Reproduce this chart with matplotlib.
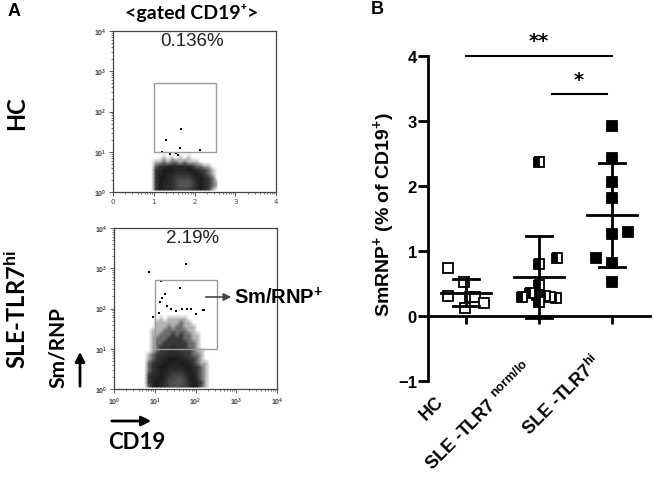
import numpy as np
import matplotlib.pyplot as plt
from matplotlib.colors import LinearSegmentedColormap
from matplotlib.patches import Rectangle, FancyArrowPatch

plt.rcParams['mathtext.fontset'] = 'custom'
plt.rcParams['mathtext.rm'] = 'Liberation Sans:bold'
plt.rcParams['mathtext.it'] = 'Liberation Sans:bold'
plt.rcParams['mathtext.bf'] = 'Liberation Sans:bold'

# ---- panel A: flow cytometry density (rows top -> bottom, 0.1 decade cells) ----
hc_x0 = 0.9
hc_grid = [
    "0 0 0 0 0 0 0 0 0 0 0 0 0 0 0 0 0",
    "0 0 0 1 0 1 0 1 0 1 0 0 0 0 0 0 0",
    "0 1 1 2 1 2 2 1 2 1 1 1 0 0 0 0 0",
    "0 2 3 3 4 4 4 4 4 4 3 2 2 1 1 0 0",
    "0 3 4 5 5 5 6 6 6 5 5 4 3 3 2 1 0",
    "0 3 4 5 6 6 7 7 7 7 6 5 4 3 2 1 0",
    "0 3 5 5 6 7 8 8 8 8 7 6 5 4 3 2 0",
    "0 3 5 6 6 7 8 9 9 9 8 6 5 4 3 2 1",
    "0 3 5 6 7 7 8 9 9 9 8 7 5 4 3 2 1",
    "0 3 5 6 6 7 8 8 8 8 7 6 5 4 3 1 0",
]
hc_out_x = [1.30, 1.67, 1.20, 1.65, 2.13, 1.55, 1.60, 1.40]
hc_out_y = [1.29, 1.57, 1.00, 1.10, 1.05, 0.97, 0.93, 0.95]

sle_x0 = 0.7
sle_grid = [
    "0 0 0 0 0 0 0 0 0 0 0 0 0 0 0 0 0",
    "0 0 0 0 1 0 1 1 1 1 1 0 0 0 0 0 0",
    "0 0 0 1 1 1 1 1 1 2 1 1 0 0 0 0 0",
    "0 0 0 1 1 1 2 1 2 2 1 1 1 0 0 0 0",
    "0 0 1 1 1 2 2 2 2 2 2 1 1 0 0 0 0",
    "0 0 1 1 2 2 2 3 2 3 2 2 1 1 0 0 0",
    "0 0 1 2 2 2 3 3 3 3 2 2 1 1 0 0 0",
    "0 0 1 2 2 3 3 3 3 3 3 2 2 1 0 0 0",
    "0 0 1 2 3 3 3 4 3 3 3 2 2 1 0 0 0",
    "0 0 1 2 3 3 4 4 4 3 3 3 2 1 1 0 0",
    "0 1 2 3 3 4 4 4 4 4 3 3 2 2 1 0 0",
    "0 1 2 3 4 4 5 5 5 4 4 3 3 2 1 0 0",
    "0 2 3 4 4 5 5 6 6 5 5 4 3 2 1 1 0",
    "0 2 3 4 5 5 6 6 6 6 5 5 4 3 2 1 0",
    "0 2 3 4 5 6 7 7 7 7 6 5 4 3 2 1 0",
    "0 3 4 4 5 6 7 8 8 8 7 6 5 3 2 1 0",
    "0 3 4 5 5 6 8 8 9 9 8 6 5 4 2 1 0",
    "0 3 4 5 6 7 8 9 9 9 8 7 5 4 3 1 0",
    "0 2 4 5 6 7 8 8 9 8 8 6 5 4 2 1 0",
]
sle_out_x = [0.86, 1.77, 1.15, 1.62, 2.20, 1.18, 1.25, 1.13, 1.29, 1.41, 1.66, 1.78, 1.90, 1.53, 1.10, 2.00, 0.96, 2.19]
sle_out_y = [2.90, 3.10, 2.68, 2.50, 1.96, 2.26, 2.36, 2.16, 2.07, 1.98, 2.00, 2.00, 2.00, 1.95, 1.90, 1.87, 1.78, 1.97]

# ---- panel B: SmRNP+ (% of CD19+) ----
categories = ["HC", "SLE -TLR7 $^{norm/lo}$", "SLE -TLR7$^{hi}$"]
hc_vals = [0.74, 0.53, 0.31, 0.30, 0.29, 0.20, 0.13]
hc_off = [-0.25, -0.03, -0.25, 0.05, 0.12, 0.24, -0.02]
lo_vals = [2.37, 0.90, 0.80, 0.48, 0.35, 0.33, 0.31, 0.30, 0.29, 0.28, 0.21]
lo_off = [0.0, 0.25, 0.0, 0.0, -0.12, -0.03, 0.08, 0.15, -0.23, 0.23, 0.0]
hi_vals = [2.92, 2.43, 2.06, 1.82, 1.29, 1.26, 0.89, 0.82, 0.52]
hi_off = [0.0, 0.0, 0.0, 0.0, 0.22, 0.0, -0.22, 0.0, 0.0]

W, H = 653, 489
fig = plt.figure(figsize=(W / 100, H / 100), dpi=100)


def P(x, y):
    return (x / W, 1 - y / H)


def box(l, t, r, b):
    return [l / W, 1 - b / H, (r - l) / W, (b - t) / H]


dens_cmap = LinearSegmentedColormap.from_list('flow', [
    (0.0, 'white'), (1 / 9, '#b4b4b4'), (2 / 9, '#6a6a6a'), (3 / 9, '#383838'),
    (5 / 9, '#1c1c1c'), (7 / 9, '#303030'), (1.0, '#555555')])
minor = [d + np.log10(k) for d in range(4) for k in range(2, 10)]


def flow_plot(rect, rows, x0, ox, oy, pct, xlabels):
    ax = fig.add_axes(rect)
    grid = np.array([[int(v) for v in r.split()] for r in rows])[::-1]
    ny, nx = grid.shape
    xc = x0 + 0.1 * np.arange(nx) + 0.05
    yc = 0.1 * np.arange(ny) + 0.05
    ax.pcolormesh(xc, yc, grid, cmap=dens_cmap, vmin=0, vmax=9, shading='gouraud')
    ax.scatter(ox, oy, s=3, marker='s', color='k', linewidths=0)
    ax.add_patch(Rectangle((1.0, 1.0), 1.52, 1.72, fill=False, ec='#9a9a9a', lw=1, zorder=3))
    ax.set_xlim(0, 4)
    ax.set_ylim(0, 4)
    ax.set_xticks(range(5))
    ax.set_xticklabels(xlabels)
    ax.set_yticks(range(5))
    ax.set_yticklabels(['$10^{%d}$' % i for i in range(5)])
    ax.set_xticks(minor, minor=True)
    ax.set_yticks(minor, minor=True)
    ax.tick_params(which='major', length=3, width=0.6, color='#444', labelsize=5,
                   labelcolor='#444', pad=1.5)
    ax.tick_params(which='minor', length=1.5, width=0.5, color='#444')
    for s in ax.spines.values():
        s.set_color('#444')
        s.set_linewidth(0.9)
    ax.text(1.94, 3.76, pct, ha='center', va='center', fontsize=13.5,
            family='Liberation Sans', color='#222')
    return ax


flow_plot(box(113, 32, 276, 193), hc_grid, hc_x0, hc_out_x, hc_out_y, "0.136%",
          ['0', '1', '2', '3', '4'])
flow_plot(box(114, 229, 277, 390), sle_grid, sle_x0, sle_out_x, sle_out_y, "2.19%",
          ['$10^{%d}$' % i for i in range(5)])

lato = ['Lato', 'DejaVu Sans']
fig.text(*P(14, 12), "A", fontsize=13, fontweight='bold', family='Liberation Sans',
         ha='center', va='center')
fig.text(*P(192, 13), "<gated CD19\u207a>", fontsize=14, fontweight='bold', family=lato,
         ha='center', va='center')
fig.text(*P(17, 113), "HC", fontsize=17, fontweight='bold', family=lato, rotation=90,
         ha='center', va='center')
fig.text(*P(17, 310), "SLE-TLR7$^{hi}$", fontsize=17, fontweight='bold', family=lato,
         rotation=90, ha='center', va='center')
fig.text(*P(58, 347), "Sm/RNP", fontsize=15, fontweight='bold', family=lato, rotation=90,
         ha='center', va='center')
fig.text(*P(137, 443), "CD19", fontsize=16, fontweight='bold', family=lato,
         ha='center', va='center')
fig.text(*P(234, 298), "Sm/RNP$^{+}$", fontsize=14.5, fontweight='bold',
         family='Liberation Sans', ha='left', va='center')
fig.add_artist(FancyArrowPatch(P(80, 390), P(80, 350), transform=fig.transFigure,
                               arrowstyle='-|>', mutation_scale=14, lw=2, color='k'))
fig.add_artist(FancyArrowPatch(P(109, 422), P(154, 422), transform=fig.transFigure,
                               arrowstyle='-|>', mutation_scale=14, lw=2, color='k'))
fig.add_artist(FancyArrowPatch(P(203, 298), P(234, 298), transform=fig.transFigure,
                               arrowstyle='-|>', mutation_scale=11, lw=1.2, color='#444'))

# ---- panel B ----
axb = fig.add_axes(box(428, 57, 650, 382))
axb.set_xlim(0.48, 3.52)
axb.set_ylim(-1, 4)
axb.spines['top'].set_visible(False)
axb.spines['right'].set_visible(False)
axb.spines['left'].set_linewidth(2)
axb.spines['bottom'].set_linewidth(2)
axb.spines['bottom'].set_position(('data', 0))
axb.set_xticks([1, 2, 3])
axb.set_xticklabels([])
axb.set_yticks(range(-1, 5))
axb.tick_params(axis='x', length=6, width=2, direction='out')
axb.tick_params(axis='y', length=7, width=2, direction='out', pad=1, labelsize=12)
for t in axb.get_yticklabels():
    t.set_fontweight('bold')
    t.set_family('Liberation Sans')

groups = [(hc_vals, hc_off, dict(mfc='white')),
          (lo_vals, lo_off, dict(mfc='k', mfcalt='white', fillstyle='left')),
          (hi_vals, hi_off, dict(mfc='k'))]
for i, (vals, off, style) in enumerate(groups):
    c = i + 1
    axb.plot(np.array(off) + c, vals, 's', ms=6.5, mec='k', mew=1.3, ls='none',
             zorder=3, clip_on=False, **style)
    m = np.mean(vals)
    sd = np.std(vals, ddof=1)
    axb.plot([c - 0.34, c + 0.34], [m, m], color='k', lw=2, zorder=4)
    axb.plot([c, c], [m - sd, m + sd], color='k', lw=2, zorder=4)
    for v in (m - sd, m + sd):
        axb.plot([c - 0.18, c + 0.18], [v, v], color='k', lw=2, zorder=4)

axb.plot([1.0, 3.0], [4.0, 4.0], color='k', lw=1.5, clip_on=False)
axb.text(2.0, 4.1, "**", ha='center', va='bottom', fontsize=14, fontweight='bold')
axb.plot([2.18, 2.93], [3.41, 3.41], color='k', lw=1.5, clip_on=False)
axb.text(2.55, 3.5, "*", ha='center', va='bottom', fontsize=14, fontweight='bold')

fig.text(*P(377, 10), "B", fontsize=13, fontweight='bold', family='Liberation Sans',
         ha='center', va='center')
fig.text(*P(384, 215), "SmRNP$^{+}$ (% of CD19$^{+}$)", fontsize=14, fontweight='bold',
         family='Liberation Sans', rotation=90, ha='center', va='center')
for lab, (lx, ly) in zip(categories, [(447, 393), (537, 358), (606, 352)]):
    fig.text(*P(lx, ly), lab, fontsize=13, fontweight='bold', family='Liberation Sans',
             rotation=45, ha='right', va='top')

fig.savefig('out.png', dpi=100)
